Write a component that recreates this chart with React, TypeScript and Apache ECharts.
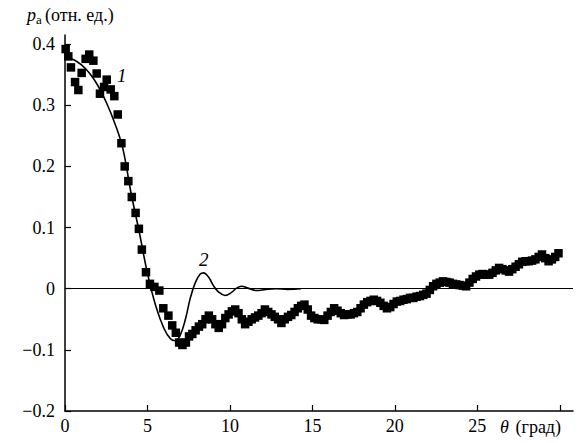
import React, { useEffect, useRef } from "react";
import * as echarts from "echarts";

// Experimental points (θ in degrees, p_a in arb. units)
const expTheta = [
  0.04, 0.2, 0.36, 0.61, 0.81, 1.01, 1.25, 1.47, 1.72, 1.92, 2.12, 2.37, 2.53, 2.77, 2.99, 3.2, 3.42,
  3.62, 3.84, 4.05, 4.28, 4.48, 4.66, 4.91, 5.15, 5.42, 5.72, 5.96, 6.27, 6.5, 6.72, 6.92, 7.12, 7.33,
  7.52, 7.72, 7.92, 8.12, 8.32, 8.52, 8.72, 8.92, 9.12, 9.32, 9.52, 9.72, 9.92, 10.12, 10.32, 10.52,
  10.72, 10.92, 11.12, 11.32, 11.52, 11.72, 11.92, 12.12, 12.32, 12.52, 12.72, 12.92, 13.12, 13.32,
  13.52, 13.72, 13.92, 14.12, 14.32, 14.52, 14.72, 14.92, 15.12, 15.32, 15.52, 15.72, 15.92, 16.12,
  16.32, 16.52, 16.72, 16.92, 17.12, 17.32, 17.52, 17.72, 17.92, 18.12, 18.32, 18.52, 18.72, 18.92,
  19.12, 19.32, 19.52, 19.72, 19.92, 20.12, 20.32, 20.52, 20.72, 20.92, 21.12, 21.32, 21.52, 21.72,
  21.92, 22.12, 22.32, 22.52, 22.72, 22.92, 23.12, 23.32, 23.52, 23.72, 23.92, 24.12, 24.32, 24.52,
  24.72, 24.92, 25.12, 25.32, 25.52, 25.72, 25.92, 26.12, 26.32, 26.52, 26.72, 26.92, 27.12, 27.32,
  27.52, 27.72, 27.92, 28.12, 28.32, 28.52, 28.72, 28.92, 29.12, 29.32, 29.52, 29.72, 29.92,
];
const expP = [
  0.392, 0.38, 0.362, 0.338, 0.325, 0.353, 0.376, 0.383, 0.373, 0.352, 0.319, 0.33, 0.342, 0.326, 0.315, 0.285, 0.238,
  0.2, 0.176, 0.15, 0.124, 0.098, 0.064, 0.027, 0.008, 0.003, -0.003, -0.032, -0.044, -0.06, -0.072, -0.088, -0.092, -0.088,
  -0.078, -0.074, -0.068, -0.062, -0.058, -0.05, -0.044, -0.05, -0.058, -0.064, -0.058, -0.048, -0.042, -0.037, -0.034, -0.04,
  -0.05, -0.058, -0.054, -0.05, -0.047, -0.044, -0.04, -0.034, -0.038, -0.042, -0.046, -0.05, -0.056, -0.05,
  -0.046, -0.043, -0.038, -0.032, -0.028, -0.026, -0.034, -0.044, -0.048, -0.05, -0.05, -0.051, -0.044, -0.038,
  -0.032, -0.036, -0.04, -0.043, -0.042, -0.042, -0.04, -0.038, -0.032, -0.026, -0.022, -0.02, -0.018, -0.02,
  -0.023, -0.028, -0.032, -0.03, -0.025, -0.021, -0.02, -0.018, -0.017, -0.015, -0.015, -0.013, -0.012, -0.01,
  -0.008, -0.002, 0.004, 0.008, 0.01, 0.012, 0.011, 0.01, 0.008, 0.007, 0.006, 0.005, 0.004, 0.01,
  0.016, 0.02, 0.023, 0.024, 0.023, 0.023, 0.026, 0.03, 0.034, 0.032, 0.03, 0.028, 0.032, 0.036,
  0.04, 0.044, 0.045, 0.045, 0.046, 0.048, 0.052, 0.056, 0.05, 0.045, 0.048, 0.052, 0.058,
];

// Calculated curve
const curveTheta = [
  0, 0.5, 1.0, 1.5, 2.0, 2.5, 3.0, 3.5, 4.0, 4.5, 5.0, 5.5, 6.0, 6.4, 6.7, 7.0, 7.3, 7.6, 7.9, 8.2,
  8.4, 8.7, 9.0, 9.3, 9.7, 10.1, 10.4, 10.7, 11.1, 11.6, 12.2, 12.8, 13.5, 14.3,
];
const curveP = [
  0.378, 0.375, 0.366, 0.352, 0.332, 0.305, 0.272, 0.23, 0.157, 0.093, 0.025, -0.028, -0.065, -0.082, -0.085, -0.075, -0.05, -0.015, 0.01, 0.024,
  0.026, 0.019, 0.005, -0.005, -0.011, -0.006, 0.001, 0.004, 0.001, -0.003, -0.001, 0.0, -0.001, 0.0,
];

const xTicks = [0, 5, 10, 15, 20, 25, 30];
const xLabels = [0, 5, 10, 15, 20, 25];
const yTicks = [-0.2, -0.1, 0, 0.1, 0.2, 0.3, 0.4];

const FONT = "serif";

export default function App() {
  const ref = useRef<HTMLDivElement>(null);
  useEffect(() => {
    document.body.style.margin = "0";
    const chart = echarts.init(ref.current!, null, { renderer: "svg" });
    const expData = expTheta.map((t, i) => [t, expP[i]]);
    const curveData = curveTheta.map((t, i) => [t, curveP[i]]);
    chart.setOption({
      animation: false,
      backgroundColor: "#ffffff",
      textStyle: { fontFamily: FONT },
      grid: { left: 65, right: 10, top: 35, bottom: 32, containLabel: false, outerBoundsMode: "none" },
      xAxis: {
        type: "value",
        min: 0,
        max: 30.8,
        splitLine: { show: false },
        axisLine: { onZero: false, lineStyle: { color: "#000", width: 1.5 } },
        axisTick: { inside: true, length: 6, customValues: xTicks, lineStyle: { color: "#000", width: 1.2 } },
        axisLabel: {
          customValues: xLabels,
          color: "#000",
          fontFamily: FONT,
          fontSize: 18,
          margin: 6,
          formatter: (v: number) => String(v),
        },
      },
      yAxis: {
        type: "value",
        min: -0.2,
        max: 0.415,
        splitLine: { show: false },
        axisLine: { onZero: false, lineStyle: { color: "#000", width: 1.5 } },
        axisTick: { inside: true, length: 6, customValues: yTicks, lineStyle: { color: "#000", width: 1.2 } },
        axisLabel: {
          customValues: yTicks,
          color: "#000",
          fontFamily: FONT,
          fontSize: 18,
          margin: 10,
          formatter: (v: number) => {
            if (Math.abs(v) < 1e-9) return "0";
            return v < 0 ? "\u2212" + Math.abs(v).toFixed(1) : v.toFixed(1);
          },
        },
      },
      series: [
        {
          type: "scatter",
          data: expData,
          symbol: "rect",
          symbolSize: 8.5,
          itemStyle: { color: "#000", opacity: 1 },
          markLine: {
            silent: true,
            symbol: "none",
            label: { show: false },
            lineStyle: { color: "#000", width: 1.2, type: "solid" },
            data: [{ yAxis: 0 }],
          },
          z: 3,
        },
        {
          type: "line",
          data: curveData,
          smooth: 0.4,
          showSymbol: false,
          lineStyle: { color: "#000", width: 1.6 },
          z: 4,
        },
      ],
      graphic: [
        {
          type: "text",
          left: 27,
          top: 6,
          style: {
            text: "{p|p}{s|a} {n|(отн. ед.)}",
            rich: {
              p: { fontFamily: FONT, fontStyle: "italic", fontSize: 18, fill: "#000" },
              s: { fontFamily: FONT, fontSize: 13, fill: "#000", padding: [8, 0, 0, 0] },
              n: { fontFamily: FONT, fontSize: 18, fill: "#000" },
            },
          },
        },
        {
          type: "text",
          left: 500,
          top: 418,
          style: {
            text: "{t|θ}  {n|(град)}",
            rich: {
              t: { fontFamily: FONT, fontStyle: "italic", fontSize: 18, fill: "#000" },
              n: { fontFamily: FONT, fontSize: 18, fill: "#000" },
            },
          },
        },
        {
          type: "text",
          left: 117,
          top: 66,
          style: { text: "1", fontFamily: FONT, fontStyle: "italic", fontSize: 19, fill: "#000" },
        },
        {
          type: "text",
          left: 199,
          top: 250,
          style: { text: "2", fontFamily: FONT, fontStyle: "italic", fontSize: 19, fill: "#000" },
        },
      ],
    });
    return () => chart.dispose();
  }, []);
  return <div ref={ref} style={{ width: 583, height: 443 }} />;
}
